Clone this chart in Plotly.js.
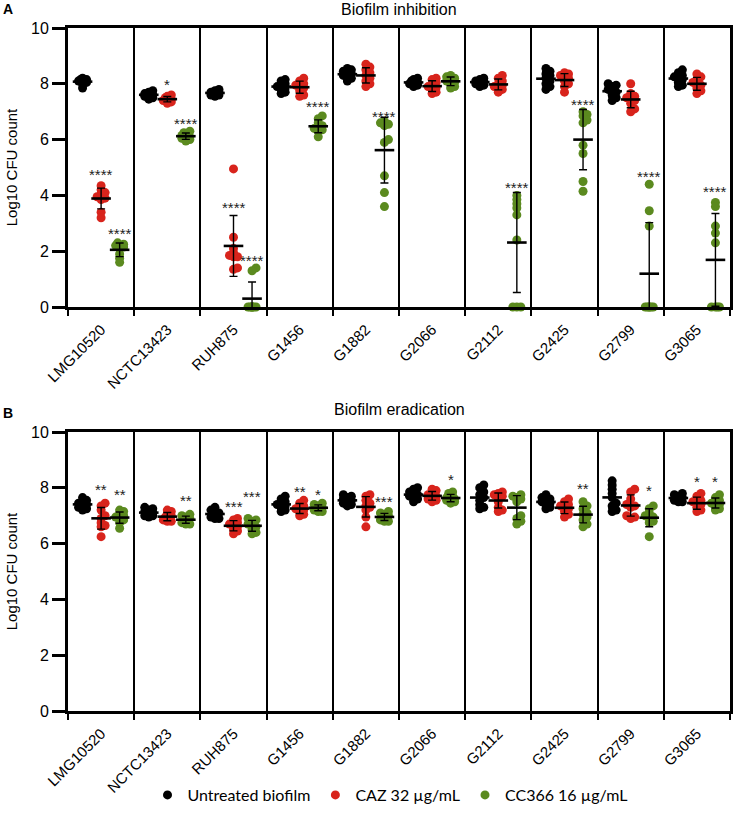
<!DOCTYPE html>
<html><head><meta charset="utf-8">
<script src="https://cdn.plot.ly/plotly-3.0.1.min.js"></script>
<style>body{margin:0;background:#fff}#chart{width:734px;height:820px}</style>
</head><body><div id="chart"></div>
<script>
const strains = ["LMG10520","NCTC13423","RUH875","G1456","G1882","G2066","G2112","G2425","G2799","G3065"];
const seriesNames = ["Untreated biofilm","CAZ 32 µg/mL","CC366 16 µg/mL"];
const yTicks = [0,2,4,6,8,10];

// Panel A – Biofilm inhibition (Log10 CFU, replicates per strain)
const inhibUntreated = [
  [8.2,8.15,8.1,8.1,8.05,8.0,7.85,8.15,8.1],
  [7.75,7.7,7.65,7.6,7.6,7.55,7.5,7.45,7.65],
  [7.8,7.75,7.7,7.7,7.65,7.6,7.6,7.55,7.7],
  [8.15,8.1,8.0,7.95,7.9,7.85,7.8,7.7,7.65],
  [8.55,8.5,8.45,8.4,8.35,8.3,8.25,8.2,8.1],
  [8.2,8.15,8.1,8.05,8.0,8.0,7.95,7.9,8.1],
  [8.2,8.15,8.1,8.1,8.05,8.0,7.95,7.9,8.1],
  [8.55,8.45,8.35,8.3,8.2,8.1,8.0,7.9,7.8],
  [8.0,7.95,7.9,7.8,7.75,7.7,7.6,7.5,7.4],
  [8.5,8.4,8.3,8.25,8.2,8.15,8.05,7.95,7.9]
];
const inhibCAZ = [
  [4.35,4.2,4.05,3.95,3.9,3.85,3.4,3.2,4.1],
  [7.6,7.55,7.5,7.45,7.4,7.4,7.35,7.3,7.5],
  [4.95,2.5,2.1,1.95,1.85,1.8,1.4,1.35,1.8],
  [8.2,8.1,8.0,7.95,7.9,7.85,7.75,7.6,7.55],
  [8.7,8.6,8.5,8.4,8.3,8.2,8.1,8.0,7.9],
  [8.2,8.15,8.05,7.95,7.9,7.85,7.8,7.7,7.65],
  [8.3,8.2,8.1,8.0,7.95,7.9,7.85,7.8,7.7],
  [8.4,8.35,8.3,8.25,8.2,8.1,8.0,7.9,7.7],
  [8.0,7.65,7.55,7.5,7.45,7.4,7.3,7.1,7.0],
  [8.35,8.25,8.15,8.05,8.0,7.95,7.85,7.75,7.65]
];
const inhibCC366 = [
  [2.3,2.25,2.2,2.2,2.15,2.1,1.9,1.75,1.6],
  [6.3,6.25,6.2,6.15,6.1,6.05,6.0,5.95,6.1],
  [1.4,1.3,0,0,0,0,0,0,0],
  [6.85,6.75,6.6,6.5,6.45,6.4,6.35,6.3,6.1],
  [6.65,6.6,6.55,6.5,6.0,5.9,4.7,4.1,3.6],
  [8.3,8.25,8.2,8.15,8.1,8.05,8.0,7.9,7.85],
  [4.0,3.85,3.7,3.55,3.3,2.4,0,0,0],
  [7.0,6.9,6.85,6.7,6.6,5.8,5.5,4.5,4.15],
  [4.4,3.45,2.9,0,0,0,0,0,0],
  [3.75,3.6,2.9,2.65,2.3,0,0,0,0]
];
const inhibSigText = [
  ["","****","****"],["","*","****"],["","****","****"],["","","****"],["","","****"],
  ["","",""],["","","****"],["","","****"],["","","****"],["","","****"]
];
const inhibSigLevel = [
  [null,4.85,2.76],[null,8.07,6.7],[null,3.66,1.79],[null,null,7.28],[null,null,6.95],
  [null,null,null],[null,null,4.4],[null,null,7.35],[null,null,4.8],[null,null,4.23]
];

// Panel B – Biofilm eradication
const eradUntreated = [
  [7.65,7.55,7.5,7.45,7.4,7.35,7.3,7.25,7.2],
  [7.3,7.25,7.2,7.15,7.1,7.05,7.0,7.0,6.95],
  [7.3,7.2,7.15,7.1,7.05,7.0,6.95,6.9,6.9],
  [7.7,7.6,7.5,7.45,7.4,7.35,7.3,7.2,7.15],
  [7.75,7.7,7.65,7.6,7.55,7.5,7.45,7.4,7.35],
  [8.0,7.95,7.85,7.8,7.75,7.7,7.65,7.6,7.5],
  [8.1,8.0,7.85,7.75,7.65,7.55,7.4,7.3,7.25],
  [7.75,7.65,7.6,7.55,7.5,7.45,7.4,7.3,7.25],
  [8.25,8.1,7.95,7.8,7.65,7.45,7.35,7.2,7.15],
  [7.8,7.75,7.7,7.65,7.65,7.6,7.55,7.5,7.5]
];
const eradCAZ = [
  [7.45,7.35,7.2,7.0,6.9,6.75,6.65,6.6,6.25],
  [7.2,7.15,7.05,7.0,6.95,6.9,6.85,6.8,6.8],
  [6.9,6.85,6.75,6.7,6.65,6.6,6.5,6.45,6.35],
  [7.55,7.45,7.35,7.3,7.25,7.2,7.15,7.05,7.0],
  [7.75,7.7,7.55,7.45,7.35,7.3,7.2,6.95,6.6],
  [7.95,7.9,7.8,7.75,7.7,7.65,7.6,7.55,7.5],
  [7.85,7.8,7.75,7.7,7.65,7.5,7.3,7.2,7.15],
  [7.6,7.5,7.4,7.35,7.3,7.25,7.15,7.05,6.95],
  [7.95,7.85,7.6,7.4,7.35,7.3,7.0,6.95,6.9],
  [7.8,7.7,7.55,7.5,7.45,7.4,7.3,7.2,7.15]
];
const eradCC366 = [
  [7.2,7.15,7.05,7.0,6.95,6.9,6.85,6.75,6.55],
  [7.05,7.0,6.95,6.9,6.85,6.8,6.75,6.7,6.7],
  [6.9,6.85,6.8,6.7,6.65,6.6,6.5,6.4,6.35],
  [7.45,7.4,7.35,7.3,7.3,7.25,7.2,7.15,7.15],
  [7.15,7.1,7.05,7.0,6.95,6.9,6.85,6.8,6.8],
  [7.85,7.8,7.7,7.65,7.6,7.6,7.55,7.5,7.45],
  [7.75,7.7,7.65,7.6,7.5,7.0,6.9,6.8,6.7],
  [7.5,7.35,7.25,7.1,7.05,6.95,6.85,6.7,6.6],
  [7.35,7.25,7.1,7.0,6.95,6.9,6.8,6.75,6.25],
  [7.75,7.65,7.55,7.5,7.45,7.4,7.35,7.25,7.2]
];
const eradSigText = [
  ["","**","**"],["","","**"],["","***","***"],["","**","*"],["","","***"],
  ["","","*"],["","",""],["","","**"],["","","*"],["","*","*"]
];
const eradSigLevel = [
  [null,8.03,7.85],[null,null,7.67],[null,7.45,7.8],[null,7.96,7.85],[null,null,7.63],
  [null,null,8.42],[null,null,null],[null,null,8.07],[null,null,8.0],[null,8.35,8.35]
];

// ---------- styling ----------
const colors = ["#000000","#d8241c","#5b8a1f"];
const seriesOffset = [-0.28, 0, 0.28];
const FONT = "Arial";
const W = 734, H = 820, mL = 68, mR = 4, mT = 28, mB = 109;
const plotW = W - mL - mR, plotH = H - mT - mB;
const pxPerX = plotW / strains.length;
const panelPx = 279, pxPerY = panelPx / 10;
const domA = [1 - panelPx / plotH, 1], domB = [0, panelPx / plotH];

function mean(a){return a.reduce((s,v)=>s+v,0)/a.length;}
function sd(a){const m=mean(a);return Math.sqrt(a.reduce((s,v)=>s+(v-m)*(v-m),0)/(a.length-1));}

// compact beeswarm: small horizontal pixel offsets so dots do not fully stack
function swarm(vals){
  const order = vals.map((v,i)=>i).sort((a,b)=>vals[a]-vals[b]);
  const placed=[], off=new Array(vals.length).fill(0);
  const cands=[0,2,-2,4,-4];
  for(const i of order){
    const y=vals[i]*pxPerY; let best=0,bestD=-1;
    for(const c of cands){
      let d=Infinity;
      for(const p of placed) d=Math.min(d,Math.hypot(c-p.x,y-p.y));
      if(d>=3.5){best=c;bestD=d;break;}
      if(d>bestD){bestD=d;best=c;}
    }
    off[i]=best; placed.push({x:best,y});
  }
  return off;
}

const traces=[]; const annotations=[];
function buildPanel(seriesData, sigText, sigLevel, xa, ya, showLegend){
  seriesData.forEach((groups, s)=>{
    const xs=[], ys=[];
    groups.forEach((vals,g)=>{
      const off=swarm(vals);
      vals.forEach((v,k)=>{xs.push(g+seriesOffset[s]+off[k]/pxPerX); ys.push(v);});
    });
    traces.push({type:"scatter",mode:"markers",x:xs,y:ys,xaxis:xa,yaxis:ya,
      name:seriesNames[s],legendgroup:seriesNames[s],showlegend:showLegend,
      cliponaxis:false,hoverinfo:"y",
      marker:{color:colors[s],size:9,line:{width:0}}});
  });
  seriesData.forEach((groups,s)=>{
    traces.push({type:"scatter",mode:"markers",
      x:groups.map((v,g)=>g+seriesOffset[s]), y:groups.map(mean),
      xaxis:xa,yaxis:ya,showlegend:false,cliponaxis:false,hoverinfo:"y",
      marker:{symbol:"line-ew",size:14,color:"#000",line:{width:2.6,color:"#000"}},
      error_y:{type:"data",array:groups.map(sd),visible:true,color:"#000",thickness:1.4,width:4}});
  });
  sigText.forEach((row,g)=>row.forEach((t,s)=>{
    if(!t) return;
    annotations.push({xref:xa,yref:ya,x:g+seriesOffset[s],y:sigLevel[g][s],text:t,
      showarrow:false,yanchor:"middle",xanchor:"center",yshift:-3,
      font:{family:FONT,size:15,color:"#222"}});
  }));
}
buildPanel([inhibUntreated,inhibCAZ,inhibCC366],inhibSigText,inhibSigLevel,"x","y",true);
buildPanel([eradUntreated,eradCAZ,eradCC366],eradSigText,eradSigLevel,"x2","y2",false);

const idx = strains.map((s,i)=>i);
const bounds = [...strains.map((s,i)=>i-0.5), strains.length-0.5];
function xAxis(anchor){
  return {domain:[0,1],anchor:anchor,range:[-0.5,strains.length-0.5],
    tickmode:"array",tickvals:idx,ticktext:strains,ticks:"",tickangle:-45,ticklabelstandoff:5,
    tickfont:{family:FONT,size:15,color:"#000"},
    showline:true,linewidth:3,linecolor:"#000",mirror:true,showgrid:false,zeroline:false,
    minor:{tickmode:"array",tickvals:bounds,ticks:"outside",ticklen:6,tickwidth:2,tickcolor:"#000",
      showgrid:true,gridcolor:"#000",gridwidth:2},
    fixedrange:true};
}
function yAxis(anchor,domain){
  return {domain:domain,anchor:anchor,range:[0,10],tickmode:"array",tickvals:yTicks,
    ticks:"outside",ticklen:13,tickwidth:3,tickcolor:"#000",
    tickfont:{family:FONT,size:16,color:"#000"},
    showline:true,linewidth:3,linecolor:"#000",mirror:true,showgrid:false,zeroline:false,
    title:{text:"Log10 CFU count",font:{family:FONT,size:15,color:"#000"},standoff:10},
    fixedrange:true};
}
function paperY(px){return (H-mB-px)/plotH;}
function paperX(px){return (px-mL)/plotW;}
annotations.push(
  {xref:"paper",yref:"paper",x:0.5,y:paperY(10),text:"Biofilm inhibition",showarrow:false,
   xanchor:"center",yanchor:"middle",font:{family:FONT,size:16,color:"#000"}},
  {xref:"paper",yref:"paper",x:0.5,y:paperY(409),text:"Biofilm eradication",showarrow:false,
   xanchor:"center",yanchor:"middle",font:{family:FONT,size:16,color:"#000"}},
  {xref:"paper",yref:"paper",x:paperX(8),y:paperY(9),text:"<b>A</b>",showarrow:false,
   xanchor:"center",yanchor:"middle",font:{family:FONT,size:14,color:"#000"}},
  {xref:"paper",yref:"paper",x:paperX(8),y:paperY(413),text:"<b>B</b>",showarrow:false,
   xanchor:"center",yanchor:"middle",font:{family:FONT,size:14,color:"#000"}}
);

const layout={width:W,height:H,margin:{l:mL,r:mR,t:mT,b:mB},
  paper_bgcolor:"#fff",plot_bgcolor:"#fff",
  xaxis:xAxis("y"),yaxis:yAxis("x",domA),
  xaxis2:xAxis("y2"),yaxis2:yAxis("x2",domB),
  annotations:annotations,
  showlegend:true,
  legend:{orientation:"h",x:paperX(390),xanchor:"center",y:paperY(795),yanchor:"middle",
    font:{family:"Lato, Open Sans, sans-serif",size:16,color:"#000"},itemwidth:30,bgcolor:"rgba(0,0,0,0)"}
};
Plotly.newPlot("chart",traces,layout,{displayModeBar:false,staticPlot:true});
</script></body></html>
